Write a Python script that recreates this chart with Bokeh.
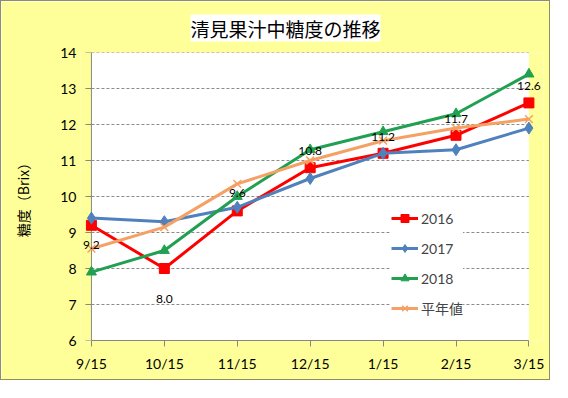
from bokeh.plotting import figure
from bokeh.models import FixedTicker, Range1d
from bokeh.embed import file_html
from bokeh.resources import INLINE

months = ["9/15", "10/15", "11/15", "12/15", "1/15", "2/15", "3/15"]
y2016 = [9.2, 8.0, 9.6, 10.8, 11.2, 11.7, 12.6]
y2017 = [9.4, 9.3, 9.7, 10.5, 11.2, 11.3, 11.9]
y2018 = [7.9, 8.5, 10.0, 11.3, 11.8, 12.3, 13.4]
normal = [8.55, 9.15, 10.35, 11.0, 11.55, 11.9, 12.15]
y_ticks = [6, 7, 8, 9, 10, 11, 12, 13, 14]
title_text = "清見果汁中糖度の推移"
ylabel_text = "糖度（Brix）"

xs = list(range(len(months)))
NUM = "Lato"
JP = "Noto Sans CJK JP"
MIX = "Lato, 'Noto Sans CJK JP'"
YELLOW = "#FFFF99"
GRID = "#8C8C8C"
AXIS = "#868686"

W, H = 550, 380
BL, BR, BT, BB = 79, 8, 51, 41
pad_l, pad_r = 0.15, 0.2
x0, x1 = xs[0] - pad_l, xs[-1] + pad_r
px_per_x = (W - BL - BR) / (x1 - x0)

p = figure(width=W, height=H, output_backend="svg", toolbar_location=None,
           x_range=Range1d(x0, x1), y_range=Range1d(y_ticks[0], y_ticks[-1]),
           min_border_left=BL, min_border_right=BR,
           min_border_top=BT, min_border_bottom=BB)
p.background_fill_color = YELLOW
p.border_fill_color = YELLOW
p.outline_line_color = None
p.xgrid.grid_line_color = None
p.ygrid.grid_line_color = None
p.styles = {"border": "1px solid #8E8E62"}

# white plotting area
p.quad(left=[xs[0]], right=[xs[-1]], bottom=[y_ticks[0]], top=[y_ticks[-1]],
       fill_color="white", line_color=None)

# dashed gridlines
gy = y_ticks[1:]
p.segment(x0=[xs[0]] * len(gy), x1=[xs[-1]] * len(gy), y0=gy, y1=gy,
          line_color=GRID, line_width=1, line_dash="3 2")
# y axis line and outward ticks at the first category
tick = 6 / px_per_x
p.segment(x0=[xs[0]], x1=[xs[0]], y0=[y_ticks[0]], y1=[y_ticks[-1]],
          line_color=AXIS, line_width=1)
p.segment(x0=[xs[0] - tick] * len(y_ticks), x1=[xs[0]] * len(y_ticks),
          y0=y_ticks, y1=y_ticks, line_color=AXIS, line_width=1)

series = [
    ("2016", y2016, "#FF0000", "square", 10),
    ("2017", y2017, "#4F81BD", "diamond", 12),
    ("2018", y2018, "#20A050", "triangle", 10),
]
for name, ys, col, mk, sz in series:
    p.line(xs, ys, line_color=col, line_width=3, legend_label=name)
    p.scatter(xs, ys, marker=mk, size=sz, fill_color=col, line_color=col,
              legend_label=name)
p.line(xs, normal, line_color="#F5A064", line_width=3, legend_label="平年値")
p.scatter(xs, normal, marker="x", size=11, line_color="#F5A064", line_width=1.5,
          legend_label="平年値")

# data labels for 2016
offs = [20, 30, -18, -17, -16, -16, -17]
p.text(x=xs, y=y2016, text=[f"{v:.1f}" for v in y2016], y_offset=offs,
       text_align="center", text_baseline="middle", text_font_size="12px",
       text_font={"value": NUM}, text_color="black")

# axes
p.xaxis.ticker = FixedTicker(ticks=xs)
p.xaxis.major_label_overrides = {i: m for i, m in zip(xs, months)}
p.xaxis.bounds = (xs[0], xs[-1])
p.xaxis.axis_line_color = AXIS
p.xaxis.major_tick_line_color = AXIS
p.xaxis.major_tick_out = 6
p.xaxis.major_tick_in = 0
p.xaxis.major_label_standoff = 8

p.yaxis.ticker = FixedTicker(ticks=y_ticks)
p.yaxis.axis_line_color = None
p.yaxis.major_tick_line_color = None
p.yaxis.major_tick_out = 0
p.yaxis.major_tick_in = 0
p.yaxis.major_label_standoff = 4
p.yaxis.axis_label = ylabel_text
p.yaxis.axis_label_text_font = JP
p.yaxis.axis_label_text_font_size = "14px"
p.yaxis.axis_label_text_font_style = "normal"
p.yaxis.axis_label_text_color = "black"
p.yaxis.axis_label_standoff = 24

for ax in (p.xaxis, p.yaxis):
    ax.minor_tick_line_color = None
    ax.major_label_text_font = NUM
    ax.major_label_text_font_size = "14px"
    ax.major_label_text_color = "black"

# legend
lg = p.legend[0]
lg.location = (311, 22)
lg.background_fill_color = "white"
lg.background_fill_alpha = 1.0
lg.border_line_color = None
lg.label_text_font = MIX
lg.label_text_font_size = "14px"
lg.glyph_width = 27
lg.glyph_height = 20
lg.label_height = 20
lg.spacing = 10
lg.padding = 12
lg.margin = 0
lg.label_standoff = 3

# title
p.title.text = title_text
p.title.align = "left"
p.title.offset = 110
p.title.text_font = JP
p.title.text_font_size = "19px"
p.title.text_font_style = "normal"
p.title.text_color = "black"
p.title.background_fill_color = "white"
p.title.standoff = 22

open("out.html", "w").write(file_html(p, INLINE))
